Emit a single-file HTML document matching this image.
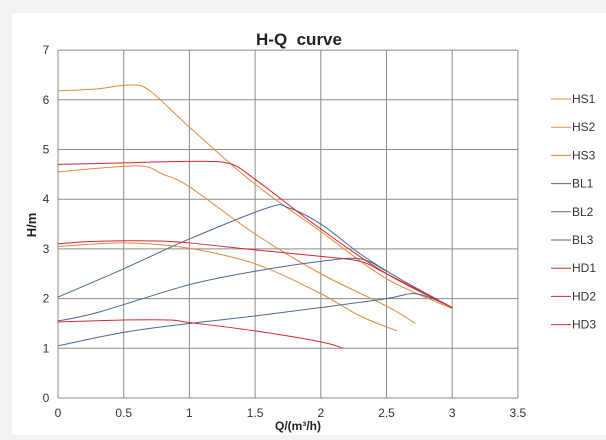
<!DOCTYPE html>
<html><head><meta charset="utf-8"><style>
html,body{margin:0;padding:0;background:#fff;overflow:hidden;width:606px;height:440px;}
svg{display:block;font-family:"Liberation Sans",sans-serif;}
</style></head><body>
<svg id="s" width="606" height="440" xmlns="http://www.w3.org/2000/svg">
<rect width="606" height="440" fill="#f2f2f2"/>
<rect x="12" y="13" width="594" height="422" fill="#fff"/>
<text x="299" y="45" text-anchor="middle" font-size="17" font-weight="bold" fill="#222" xml:space="preserve">H-Q  curve</text>
<g id="grid" stroke="#8c8c8c" stroke-width="1" fill="none"></g>
<g id="labels" font-size="12" fill="#333"></g>
<text x="36" y="225" font-size="13" font-weight="bold" fill="#222" transform="rotate(-90 36 225)" text-anchor="middle">H/m</text>
<text x="298" y="430" font-size="12" font-weight="bold" fill="#222" text-anchor="middle">Q/(m³/h)</text>
<g id="curves" fill="none" stroke-width="1"></g>
<g id="legend" font-size="12" fill="#333"></g>
</svg>
<script>
var X=function(q){return 58+q*131.4},Y=function(h){return 398-h*49.7};
var ns="http://www.w3.org/2000/svg";
function el(p,t,a,txt){var e=document.createElementNS(ns,t);for(var k in a)e.setAttribute(k,a[k]);if(txt)e.textContent=txt;document.getElementById(p).appendChild(e);}
for(var i=0;i<=7;i++){var q=i*0.5;el("grid","line",{x1:X(q),x2:X(q),y1:Y(7),y2:Y(0)});el("labels","text",{x:X(q),y:417,"text-anchor":"middle"},String(q));}
for(var j=0;j<=7;j++){el("grid","line",{x1:X(0),x2:X(3.5),y1:Y(j),y2:Y(j)});el("labels","text",{x:46,y:Y(j)+4,"text-anchor":"middle"},String(j));}
var O="#e08a3c",B="#4a6a8f",R="#d8262e";
var S=[
[O,[[0,6.18],[0.3,6.22],[0.55,6.3],[0.7,6.18],[1,5.45],[1.5,4.3],[2,3.35],[2.5,2.4],[3,1.8]]],
[O,[[0,4.55],[0.6,4.67],[0.8,4.5],[1,4.25],[1.5,3.3],[2,2.5],[2.5,1.85],[2.72,1.5]]],
[O,[[0,3.05],[0.5,3.12],[0.9,3.05],[1.3,2.85],[1.6,2.6],[2,2.1],[2.3,1.65],[2.58,1.35]]],
[B,[[0,2.03],[0.5,2.6],[1,3.2],[1.6,3.83],[1.75,3.83],[2,3.5],[2.3,2.9],[2.6,2.4],[3,1.82]]],
[B,[[0,1.55],[0.3,1.72],[1,2.28],[1.5,2.55],[2,2.75],[2.3,2.8],[2.5,2.55]]],
[B,[[0,1.05],[0.5,1.32],[1,1.5],[1.5,1.65],[2,1.82],[2.5,2.0],[2.7,2.1],[2.85,2.0],[3,1.82]]],
[R,[[0,4.7],[0.5,4.73],[1,4.76],[1.3,4.72],[1.5,4.4],[2,3.4],[2.5,2.5],[3,1.82]]],
[R,[[0,3.1],[0.25,3.15],[0.75,3.16],[1,3.12],[1.5,2.98],[2,2.85],[2.3,2.75],[2.5,2.5],[3,1.82]]],
[R,[[0,1.53],[0.5,1.57],[0.85,1.57],[1,1.52],[1.5,1.35],[2,1.13],[2.17,1.0]]]];
var names=["HS1","HS2","HS3","BL1","BL2","BL3","HD1","HD2","HD3"];
S.forEach(function(s,k){
 var pts=s[1].map(function(p){return [X(p[0]),Y(p[1])]});
 var d="M"+pts[0][0]+","+pts[0][1];
 for(var i=0;i<pts.length-1;i++){var p0=pts[i-1]||pts[i],p1=pts[i],p2=pts[i+1],p3=pts[i+2]||p2;
  d+=" C"+(p1[0]+(p2[0]-p0[0])/6)+","+(p1[1]+(p2[1]-p0[1])/6)+" "+(p2[0]-(p3[0]-p1[0])/6)+","+(p2[1]-(p3[1]-p1[1])/6)+" "+p2[0]+","+p2[1];}
 el("curves","path",{d:d,stroke:s[0]});
 var y=99+k*28.2;
 el("legend","line",{x1:551,x2:571,y1:y,y2:y,stroke:s[0]});
 el("legend","text",{x:572,y:y+4},names[k]);
});
</script>
</body></html>
